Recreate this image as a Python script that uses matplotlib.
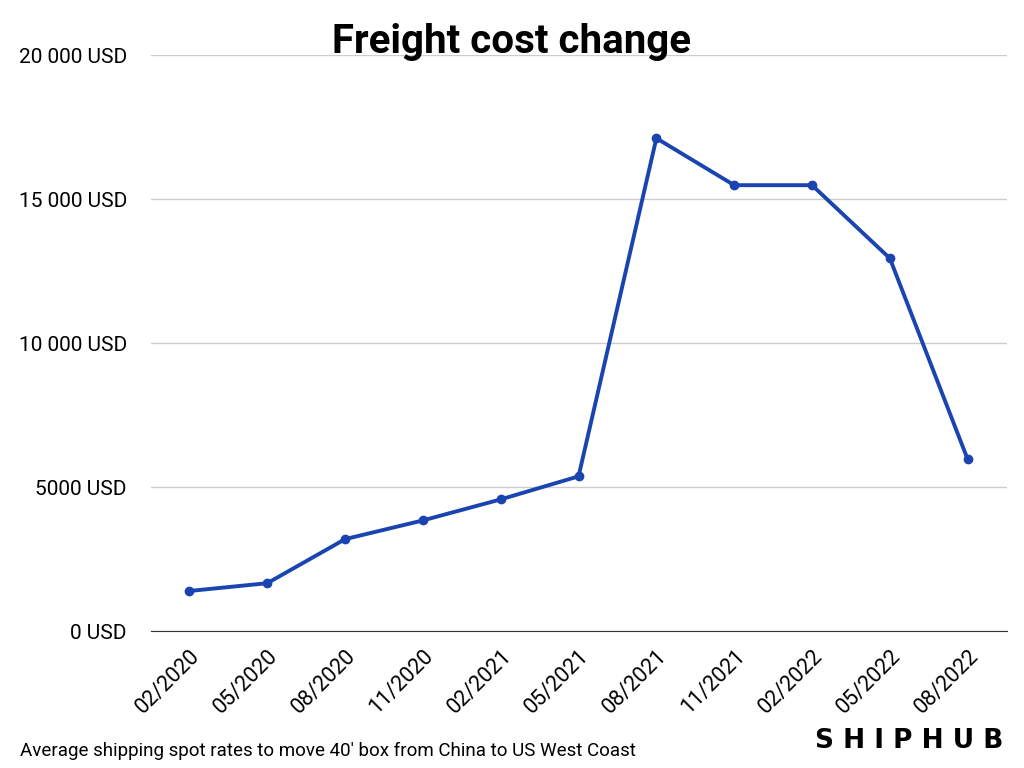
import matplotlib
matplotlib.use("Agg")
import matplotlib.pyplot as plt

dates = ["02/2020","05/2020","08/2020","11/2020","02/2021","05/2021","08/2021","11/2021","02/2022","05/2022","08/2022"]
costs = [1400,1670,3200,3850,4580,5380,17120,15490,15490,12950,5970]
yticks = [0,5000,10000,15000,20000]
ylabels = ["0 USD","5000 USD","10 000 USD","15 000 USD","20 000 USD"]

plt.rcParams["font.family"] = "Roboto"
fig = plt.figure(figsize=(10.24,7.68), dpi=100)
ax = fig.add_axes([0.147, 0.178, 0.836, 0.75])
x = range(len(dates))
ax.plot(x, costs, color="#1a44b0", lw=2.8, marker="o", ms=6)
ax.set_xlim(-0.5, len(dates)-0.5)
ax.set_ylim(0, 20000)
ax.set_yticks(yticks)
ax.set_yticklabels(ylabels, fontsize=15)
ax.set_xticks(list(x))
ax.set_xticklabels(dates, rotation=45, ha="right", rotation_mode="anchor", fontsize=15.5)
ax.grid(axis="y", color="#cccccc", lw=1)
ax.set_axisbelow(True)
for s in ["top","right","left"]:
    ax.spines[s].set_visible(False)
ax.spines["bottom"].set_color("#333333")
ax.tick_params(axis="x", length=0, pad=10)
ax.tick_params(axis="y", length=0, pad=17)
fig.text(0.5, 0.945, "Freight cost change", ha="center", va="center", fontsize=29, fontweight="bold")
fig.text(0.02, 0.022, "Average shipping spot rates to move 40' box from China to US West Coast", fontsize=13.5, va="center")
fig.text(0.98, 0.035, "S H I P H U B", fontsize=19, fontweight="bold", ha="right", va="center", fontfamily="DejaVu Sans")
fig.savefig("out.png")
